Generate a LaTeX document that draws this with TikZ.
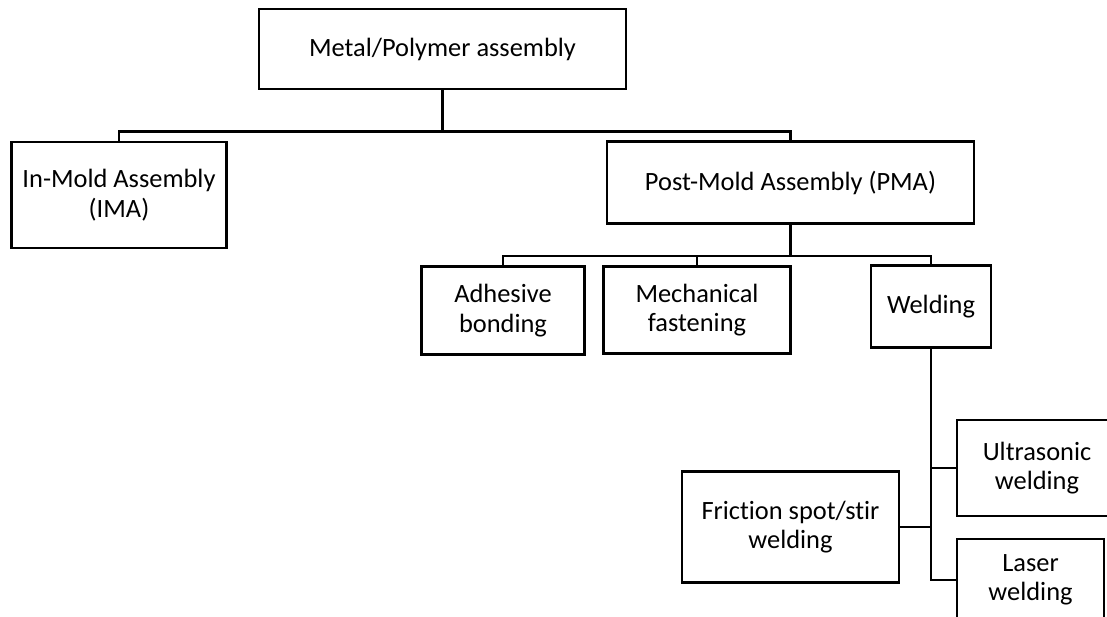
\documentclass[tikz,border=0pt]{standalone}
\usepackage{fontspec}
\setmainfont[Ligatures={NoCommon}]{Carlito}
\begin{document}
\begin{tikzpicture}[x=1pt,y=-1pt,
  box/.style={draw=black, line width=2.6pt, rectangle, inner sep=0pt, align=center,
    font=\fontsize{26.4}{29.5}\selectfont},
  conn/.style={draw=black, line width=2.2pt}]
\useasboundingbox (0,0) rectangle (1107,617);
\clip (0,0) rectangle (1107,617);
\fill[white] (0,0) rectangle (1107,617);
% boxes
\node[box, minimum width=367pt, minimum height=80pt] (top) at (442.5,49) {Metal/Polymer assembly};
\node[box, minimum width=215pt, minimum height=106pt] (ima) at (119,195) {In-Mold Assembly\\(IMA)};
\node[box, minimum width=367pt, minimum height=82pt] (pma) at (790.5,182.6) {Post-Mold Assembly (PMA)};
\node[box, minimum width=162.6pt, minimum height=87.6pt] (adh) at (503,310.5) {Adhesive\\bonding};
\node[box, minimum width=187pt, minimum height=86.5pt] (mech) at (697,310) {Mechanical\\fastening};
\node[box, minimum width=120pt, minimum height=82pt] (weld) at (931,306.7) {Welding};
\node[box, minimum width=217pt, minimum height=111pt] (fric) at (790.5,527.2) {Friction spot/stir\\welding};
\node[box, minimum width=160pt, minimum height=96pt] (ultra) at (1037,468) {Ultrasonic\\welding};
\node[box, minimum width=147pt, minimum height=82pt] (laser) at (1030.5,580) {Laser\\welding};
% junctions
\coordinate (j1) at (442.5,131.5);
\coordinate (j2) at (790.5,256);
% connectors
\draw[conn] (top.south) -- (j1);
\draw[conn] (ima.north) |- (j1) -| (pma.north);
\draw[conn] (pma.south) -- (j2);
\draw[conn] (adh.north) |- (j2) -| (weld.north);
\draw[conn] (mech.north) -- (mech.north |- j2);
\draw[conn] (weld.south) |- (laser.west);
\draw[conn] (ultra.west) -- (ultra.west -| weld.south);
\draw[conn] (fric.east) -- (fric.east -| weld.south);
\end{tikzpicture}
\end{document}
